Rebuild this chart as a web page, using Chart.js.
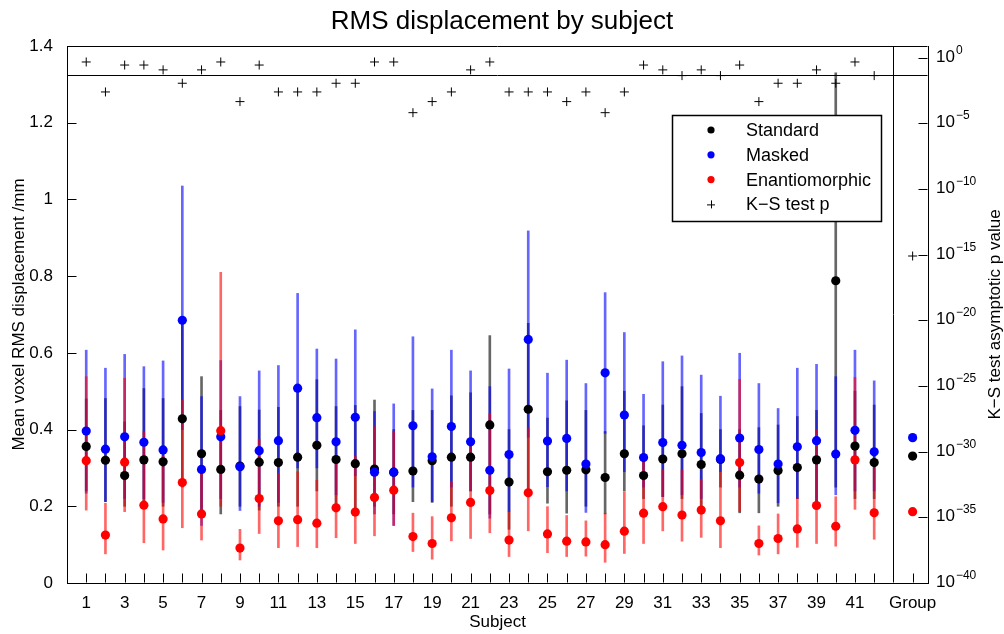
<!DOCTYPE html>
<html><head><meta charset="utf-8">
<script src="https://cdn.jsdelivr.net/npm/chart.js@4.4.1/dist/chart.umd.min.js"></script>
<style>html,body{margin:0;padding:0;background:#fff;}canvas{display:block;}</style>
</head><body>
<canvas id="c" width="1004" height="634"></canvas>
<script>
// ---------- DATA ----------
const subjects = ['1','2','3','4','5','6','7','8','9','10','11','12','13','14','15','16','17','18','19','20','21','22','23','24','25','26','27','28','29','30','31','32','33','34','35','36','37','38','39','40','41','42','Group'];
const xTickLabels = ['1','','3','','5','','7','','9','','11','','13','','15','','17','','19','','21','','23','','25','','27','','29','','31','','33','','35','','37','','39','','41','','Group'];

const standardMean = [0.356,0.320,0.280,0.321,0.316,0.428,0.337,0.296,0.305,0.315,0.314,0.328,0.359,0.322,0.311,0.297,0.289,0.292,0.319,0.328,0.328,0.412,0.263,0.453,0.290,0.294,0.295,0.275,0.337,0.280,0.323,0.337,0.309,0.322,0.281,0.271,0.293,0.301,0.321,0.788,0.357,0.314,0.331];
const standardLo = [0.24,0.212,0.20,0.21,0.20,0.25,0.182,0.18,0.20,0.19,0.20,0.20,0.24,0.20,0.19,0.20,0.18,0.212,0.21,0.20,0.24,0.18,0.14,0.23,0.208,0.182,0.20,0.18,0.24,0.22,0.225,0.22,0.20,0.25,0.183,0.183,0.20,0.22,0.21,0.25,0.22,0.22,null];
const standardHi = [0.48,0.481,0.42,0.507,0.481,0.69,0.538,0.45,0.46,0.451,0.458,0.50,0.53,0.46,0.463,0.477,0.40,0.45,0.45,0.488,0.496,0.645,0.40,0.677,0.43,0.475,0.45,0.395,0.50,0.41,0.464,0.512,0.442,0.40,0.40,0.405,0.412,0.434,0.45,1.33,0.50,0.464,null];

const maskedMean = [0.396,0.349,0.381,0.367,0.347,0.685,0.296,0.381,0.303,0.345,0.371,0.508,0.431,0.368,0.432,0.289,0.289,0.410,0.329,0.408,0.368,0.294,0.335,0.635,0.370,0.377,0.310,0.548,0.438,0.327,0.366,0.359,0.340,0.324,0.378,0.348,0.310,0.355,0.371,0.336,0.398,0.342,0.379];
const maskedLo = [0.234,0.212,0.22,0.22,0.21,0.40,0.15,0.22,0.189,0.20,0.21,0.30,0.30,0.23,0.28,0.18,0.15,0.25,0.212,0.25,0.24,0.169,0.186,0.38,0.251,0.24,0.184,0.39,0.29,0.25,0.225,0.23,0.22,0.29,0.25,0.234,0.209,0.22,0.21,0.23,0.24,0.24,null];
const maskedHi = [0.607,0.56,0.596,0.564,0.579,1.035,0.486,0.58,0.486,0.553,0.567,0.755,0.61,0.584,0.66,0.447,0.467,0.642,0.506,0.607,0.553,0.512,0.558,0.918,0.547,0.581,0.52,0.757,0.653,0.492,0.577,0.592,0.542,0.487,0.599,0.52,0.455,0.56,0.57,0.538,0.607,0.527,null];

const enantioMean = [0.319,0.125,0.315,0.203,0.167,0.262,0.180,0.397,0.091,0.220,0.162,0.165,0.156,0.196,0.185,0.223,0.242,0.121,0.103,0.170,0.210,0.241,0.112,0.235,0.128,0.109,0.107,0.100,0.135,0.182,0.199,0.177,0.190,0.162,0.314,0.103,0.116,0.141,0.202,0.148,0.321,0.183,0.186];
const enantioLo = [0.19,0.076,0.186,0.105,0.086,0.144,0.112,0.20,0.06,0.129,0.092,0.095,0.092,0.118,0.103,0.123,0.150,0.082,0.062,0.110,0.116,0.131,0.069,0.136,0.079,0.069,0.070,0.054,0.077,0.103,0.136,0.109,0.119,0.092,0.186,0.073,0.076,0.093,0.103,0.096,0.192,0.114,null];
const enantioHi = [0.538,0.208,0.534,0.395,0.33,0.477,0.286,0.81,0.14,0.375,0.286,0.29,0.268,0.33,0.33,0.408,0.395,0.182,0.173,0.264,0.36,0.442,0.186,0.403,0.199,0.176,0.162,0.182,0.238,0.321,0.295,0.295,0.27,0.29,0.531,0.149,0.18,0.221,0.399,0.225,0.536,0.299,null];

const ksP = [0.48,0.0025,0.28,0.28,0.12,0.0115,0.12,0.48,0.00046,0.28,0.0025,0.0025,0.0025,0.0115,0.0115,0.48,0.48,0.000066,0.00046,0.0025,0.12,0.48,0.0025,0.0025,0.0025,0.00046,0.0025,0.000066,0.0025,0.28,0.12,0.044,0.12,0.044,0.28,0.00046,0.0115,0.0115,0.12,0.0115,0.48,0.044,8e-16];

const yTicks = [0,0.2,0.4,0.6,0.8,1,1.2,1.4];
const pTicks = [1e0,1e-5,1e-10,1e-15,1e-20,1e-25,1e-30,1e-35,1e-40];
const pTickExponents = ['0','\u22125','\u221210','\u221215','\u221220','\u221225','\u221230','\u221235','\u221240'];
const SIG_P = 0.05;
const GROUP_SEPARATOR = 43;

// ---------- BUILD ----------
const FONT = '"Liberation Sans", Arial, Helvetica, sans-serif';
const xOf = i => (i < 42 ? i + 1 : 44);
const pts = arr => arr.map((v, i) => ({x: xOf(i), y: v}));
const bars = (lo, hi) => lo.map((l, i) => (l == null ? null : {x: xOf(i), y: [l, hi[i]]})).filter(d => d);

const barCommon = {type: 'bar', yAxisID: 'y', xAxisID: 'x', barThickness: 2, grouped: false, borderWidth: 0};
const ptCommon = {type: 'scatter', yAxisID: 'y', xAxisID: 'x', pointRadius: 4.6, pointBorderWidth: 0, pointHoverRadius: 4.6};

const datasets = [
  Object.assign({label: 'K\u2212S test p', data: pts(ksP), yAxisID: 'yR', type: 'scatter', xAxisID: 'x',
    pointStyle: 'cross', pointRadius: 4.5, borderColor: '#000', backgroundColor: '#000', pointBorderWidth: 1, order: 0}),
  Object.assign({}, ptCommon, {label: 'Enantiomorphic', data: pts(enantioMean), backgroundColor: '#ff0000', borderColor: '#ff0000', order: 1}),
  Object.assign({}, ptCommon, {label: 'Masked', data: pts(maskedMean), backgroundColor: '#0000ff', borderColor: '#0000ff', order: 2}),
  Object.assign({}, ptCommon, {label: 'Standard', data: pts(standardMean), backgroundColor: '#000000', borderColor: '#000000', order: 3}),
  Object.assign({}, barCommon, {label: 'Enantiomorphic range', data: bars(enantioLo, enantioHi), backgroundColor: 'rgba(255,0,0,0.6)', order: 4}),
  Object.assign({}, barCommon, {label: 'Masked range', data: bars(maskedLo, maskedHi), backgroundColor: 'rgba(0,0,255,0.6)', order: 5}),
  Object.assign({}, barCommon, {label: 'Standard range', data: bars(standardLo, standardHi), backgroundColor: 'rgba(0,0,0,0.6)', order: 6})
];

const legendItems = [
  {text: 'Standard', color: '#000', kind: 'dot'},
  {text: 'Masked', color: '#0000ff', kind: 'dot'},
  {text: 'Enantiomorphic', color: '#ff0000', kind: 'dot'},
  {text: 'K\u2212S test p', color: '#000', kind: 'cross'}
];

const framePlugin = {
  id: 'frame',
  afterDraw(chart) {
    const ctx = chart.ctx;
    const a = chart.chartArea;
    const sx = chart.scales.x, sy = chart.scales.y, sr = chart.scales.yR;
    ctx.save();
    ctx.strokeStyle = '#000';
    ctx.lineWidth = 1;
    const line = (x1, y1, x2, y2) => { ctx.beginPath(); ctx.moveTo(x1, y1); ctx.lineTo(x2, y2); ctx.stroke(); };
    const L = Math.round(a.left) + 0.5, R = Math.round(a.right) - 0.5, T = Math.round(a.top) + 0.5, B = Math.round(a.bottom) - 0.5;
    // top border
    line(L, T, R, T);
    // significance line
    const ys = Math.round(sr.getPixelForValue(SIG_P)) + 0.5;
    line(L, ys, R, ys);
    // group separator
    const xs = Math.round(sx.getPixelForValue(GROUP_SEPARATOR)) + 0.5;
    line(xs, T, xs, B);
    // inward ticks
    const TL = 9;
    sy.ticks.forEach(t => { const y = Math.round(sy.getPixelForValue(t.value)) + 0.5; line(L, y, L + TL, y); });
    sr.ticks.forEach(t => { const y = Math.round(sr.getPixelForValue(t.value)) + 0.5; line(R - TL, y, R, y); });
    sx.ticks.forEach(t => { const x = Math.round(sx.getPixelForValue(t.value)) + 0.5; line(x, B, x, B - TL); });

    ctx.fillStyle = '#000';
    // right tick labels 10^n
    ctx.textAlign = 'left'; ctx.textBaseline = 'alphabetic';
    pTicks.forEach((v, i) => {
      const y = sr.getPixelForValue(v);
      const x0 = a.right + 8;
      ctx.font = '17px ' + FONT;
      ctx.fillText('10', x0, y + 4);
      const w = ctx.measureText('10').width;
      ctx.font = '12px ' + FONT;
      ctx.fillText(pTickExponents[i], x0 + w + 1, y - 4);
    });

    // title
    ctx.font = '26px ' + FONT;
    ctx.textAlign = 'center';
    ctx.fillText('RMS displacement by subject', chart.width / 2, 29);
    // x title
    ctx.font = '17px ' + FONT;
    ctx.fillText('Subject', (a.left + a.right) / 2, 627);
    // left title
    const cy = (a.top + a.bottom) / 2;
    ctx.save(); ctx.translate(24, cy); ctx.rotate(-Math.PI / 2);
    ctx.fillText('Mean voxel RMS displacement /mm', 0, 0); ctx.restore();
    // right title
    ctx.save(); ctx.translate(1000, cy); ctx.rotate(-Math.PI / 2);
    ctx.fillText('K\u2212S test asymptotic p value', 0, 0); ctx.restore();

    // legend
    const lx = 672.5, ly = 115.5, lw = 209, lh = 106;
    ctx.fillStyle = '#fff'; ctx.fillRect(lx, ly, lw, lh);
    ctx.strokeStyle = '#000'; ctx.lineWidth = 1.5; ctx.strokeRect(lx, ly, lw, lh);
    ctx.font = '18px ' + FONT; ctx.textAlign = 'left'; ctx.textBaseline = 'middle';
    legendItems.forEach((it, i) => {
      const y = 130 + i * 24.8;
      const mx = 711;
      if (it.kind === 'dot') {
        ctx.fillStyle = it.color; ctx.beginPath(); ctx.arc(mx, y, 3.6, 0, Math.PI * 2); ctx.fill();
      } else {
        ctx.strokeStyle = it.color; ctx.lineWidth = 1;
        line(mx - 4, y + 0.5, mx + 4, y + 0.5); line(mx + 0.5, y - 4, mx + 0.5, y + 4);
      }
      ctx.fillStyle = '#000';
      ctx.fillText(it.text, 746, y + 1);
    });
    ctx.restore();
  }
};

new Chart(document.getElementById('c'), {
  type: 'bar',
  data: {datasets},
  options: {
    responsive: false,
    animation: false,
    events: [],
    layout: {padding: {top: 46, left: 0, right: 0, bottom: 0}},
    plugins: {legend: {display: false}, title: {display: false}, tooltip: {enabled: false}},
    scales: {
      x: {
        type: 'linear', position: 'bottom', min: 0, max: 44.8, offset: false,
        grid: {display: false, offset: false},
        border: {display: true, color: '#000', width: 1},
        afterBuildTicks: s => { s.ticks = subjects.map((_, i) => ({value: xOf(i)})); },
        afterFit: s => { s.height = 51; s.paddingLeft = 0; s.paddingRight = 0; },
        ticks: {autoSkip: false, maxRotation: 0, minRotation: 0, padding: 2, color: '#000',
          font: {family: FONT, size: 17},
          callback: (v, i) => xTickLabels[i]}
      },
      y: {
        type: 'linear', position: 'left', min: 0, max: 1.4,
        grid: {display: false},
        border: {display: true, color: '#000', width: 1},
        afterBuildTicks: s => { s.ticks = yTicks.map(v => ({value: v})); },
        afterFit: s => { s.width = 67; s.paddingTop = 0; s.paddingBottom = 0; },
        ticks: {padding: 6, color: '#000', font: {family: FONT, size: 17},
          callback: v => String(Math.round(v * 10) / 10)}
      },
      yR: {
        type: 'logarithmic', position: 'right', min: 1e-40, max: 7.9,
        grid: {display: false},
        border: {display: true, color: '#000', width: 1},
        afterBuildTicks: s => { s.ticks = pTicks.map(v => ({value: v})); },
        afterFit: s => { s.width = 76; s.paddingTop = 0; s.paddingBottom = 0; },
        ticks: {display: false}
      }
    }
  },
  plugins: [framePlugin]
});
</script>
</body></html>
